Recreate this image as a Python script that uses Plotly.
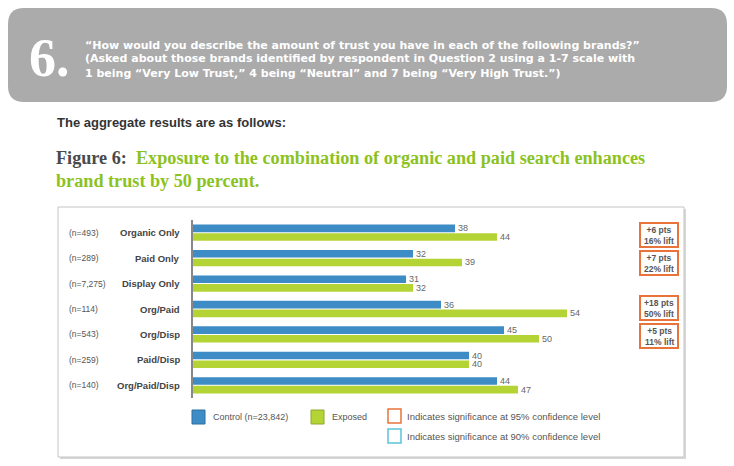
import plotly.graph_objects as go

categories = ["Organic Only", "Paid Only", "Display Only", "Org/Paid", "Org/Disp", "Paid/Disp", "Org/Paid/Disp"]
n_labels = ["(n=493)", "(n=289)", "(n=7,275)", "(n=114)", "(n=543)", "(n=259)", "(n=140)"]
control = [38, 32, 31, 36, 45, 40, 44]
exposed = [44, 39, 32, 54, 50, 40, 47]
lift_rows = ["Organic Only", "Paid Only", "Org/Paid", "Org/Disp"]
lift_text = ["+6 pts<br>16% lift", "+7 pts<br>22% lift", "+18 pts<br>50% lift", "+5 pts<br>11% lift"]
series_names = ["Control (n=23,842)", "Exposed"]
sig_labels = ["Indicates significance at 95% confidence level", "Indicates significance at 90% confidence level"]

BLUE = "#3d8cc6"
GREEN = "#b4d334"
ORANGE = "#e8743b"
CYAN = "#5cc3d8"

W, H = 734, 466
L, R, T, B = 193, 104, 220, 68
PW = W - L - R
PH = H - T - B


def px(x):
    return (x - L) / PW


def py(y):
    return (H - B - y) / PH


fig = go.Figure()
for vals, name, col in [(control, series_names[0], BLUE), (exposed, series_names[1], GREEN)]:
    fig.add_trace(go.Bar(y=categories, x=vals, orientation="h", name=name,
                         marker=dict(color=col, line=dict(width=0)),
                         text=[str(v) for v in vals], textposition="outside", constraintext="none",
                         textfont=dict(size=9, color="#666", family="Liberation Sans"),
                         cliponaxis=False))

shapes = []
annotations = []


def rounded_path(x0, y0, x1, y1, r):
    def P(x, y):
        return f"{px(x):.5f},{py(y):.5f}"
    s = f"M {P(x0 + r, y0)} L {P(x1 - r, y0)} Q {P(x1, y0)} {P(x1, y0 + r)} "
    s += f"L {P(x1, y1 - r)} Q {P(x1, y1)} {P(x1 - r, y1)} "
    s += f"L {P(x0 + r, y1)} Q {P(x0, y1)} {P(x0, y1 - r)} "
    s += f"L {P(x0, y0 + r)} Q {P(x0, y0)} {P(x0 + r, y0)} Z"
    return s


# header box
shapes.append(dict(type="path", xref="paper", yref="paper", path=rounded_path(8, 8, 727, 102, 16),
                   fillcolor="#ababab", line=dict(width=0), layer="below"))
annotations.append(dict(xref="paper", yref="paper", x=px(28), y=py(58), xanchor="left", yanchor="middle",
                        text="<b>6.</b>", showarrow=False, borderpad=0,
                        font=dict(size=54, color="white", family="Liberation Serif")))
header_lines = ["“How would you describe the amount of trust you have in each of the following brands?”",
                "(Asked about those brands identified by respondent in Question 2 using a 1-7 scale with",
                "1 being “Very Low Trust,” 4 being “Neutral” and 7 being “Very High Trust.”)"]
for i, ln in enumerate(header_lines):
    annotations.append(dict(xref="paper", yref="paper", x=px(84), y=py(45 + 14 * i), xanchor="left",
                            yanchor="middle", text=f"<b>{ln}</b>", showarrow=False, borderpad=0,
                            font=dict(size=11, color="white", family="DejaVu Sans")))

annotations.append(dict(xref="paper", yref="paper", x=px(55), y=py(123), xanchor="left", yanchor="middle",
                        text="<b>The aggregate results are as follows:</b>", showarrow=False,
                        font=dict(size=13, color="#333", family="Liberation Sans")))
annotations.append(dict(xref="paper", yref="paper", x=px(54), y=py(158), xanchor="left", yanchor="middle",
                        text="<b><span style='color:#4a4a4a'>Figure 6:</span>  Exposure to the combination of organic and paid search enhances</b>",
                        showarrow=False, font=dict(size=18.2, color="#8cc21e", family="Liberation Serif")))
annotations.append(dict(xref="paper", yref="paper", x=px(54), y=py(181), xanchor="left", yanchor="middle",
                        text="<b>brand trust by 50 percent.</b>",
                        showarrow=False, font=dict(size=18.2, color="#8cc21e", family="Liberation Serif")))

# chart frame
shapes.append(dict(type="rect", xref="paper", yref="paper", x0=px(60), x1=px(686), y0=py(209), y1=py(459),
                   fillcolor="#d8d8d8", line=dict(width=0), layer="below"))
shapes.append(dict(type="rect", xref="paper", yref="paper", x0=px(58), x1=px(684), y0=py(207), y1=py(457),
                   fillcolor="white", line=dict(color="#c4c4c4", width=1), layer="below"))

# category labels
for c, n in zip(categories, n_labels):
    annotations.append(dict(xref="paper", yref="y", x=px(182), y=c, xanchor="right", yanchor="middle",
                            text=f"<b>{c}</b>", showarrow=False,
                            font=dict(size=9.5, color="#444", family="Liberation Sans")))
    annotations.append(dict(xref="paper", yref="y", x=px(67), y=c, xanchor="left", yanchor="middle",
                            text=n, showarrow=False,
                            font=dict(size=8.5, color="#555", family="Liberation Sans")))

# lift boxes (top pixel of each box)
box_tops = [223, 251, 296, 324]
for top, t in zip(box_tops, lift_text):
    shapes.append(dict(type="rect", xref="paper", yref="paper", x0=px(640), x1=px(678),
                       y0=py(top), y1=py(top + 24), line=dict(color=ORANGE, width=2), fillcolor="white"))
    annotations.append(dict(xref="paper", yref="paper", x=px(659), y=py(top + 12), xanchor="center",
                            yanchor="middle", text=f"<b>{t}</b>", showarrow=False, borderpad=0,
                            font=dict(size=8.5, color="#555", family="Liberation Sans")))

# legend
leg = [(192, 417, BLUE, "#2f6f9f", series_names[0]), (311, 417, GREEN, "#8fa82a", series_names[1])]
for x0, yc, fc, lc, name in leg:
    shapes.append(dict(type="rect", xref="paper", yref="paper", x0=px(x0), x1=px(x0 + 13),
                       y0=py(yc - 7), y1=py(yc + 7), fillcolor=fc, line=dict(color=lc, width=1)))
    annotations.append(dict(xref="paper", yref="paper", x=px(x0 + 19), y=py(yc), xanchor="left",
                            yanchor="middle", text=name, showarrow=False,
                            font=dict(size=9, color="#555", family="Liberation Sans")))
for (yc, col), lab in zip([(416, ORANGE), (436, CYAN)], sig_labels):
    shapes.append(dict(type="rect", xref="paper", yref="paper", x0=px(388), x1=px(401),
                       y0=py(yc - 7), y1=py(yc + 7), fillcolor="white", line=dict(color=col, width=1.5)))
    annotations.append(dict(xref="paper", yref="paper", x=px(405), y=py(yc), xanchor="left",
                            yanchor="middle", text=lab, showarrow=False,
                            font=dict(size=9.5, color="#555", family="Liberation Sans")))

fig.update_layout(
    width=W, height=H, autosize=False,
    margin=dict(l=L, r=R, t=T, b=B, pad=0),
    paper_bgcolor="white", plot_bgcolor="rgba(0,0,0,0)",
    barmode="group", bargap=0.32, bargroupgap=0.12,
    showlegend=False,
    shapes=shapes, annotations=annotations,
    xaxis=dict(range=[0.57, 0.57 + PW / 7.0], visible=False, fixedrange=True),
    yaxis=dict(autorange="reversed", showticklabels=False, ticks="", showgrid=False, zeroline=False,
               showline=True, linecolor="#888", linewidth=1.5, fixedrange=True),
    font=dict(family="Liberation Sans"),
)

fig.write_html("out.html")
